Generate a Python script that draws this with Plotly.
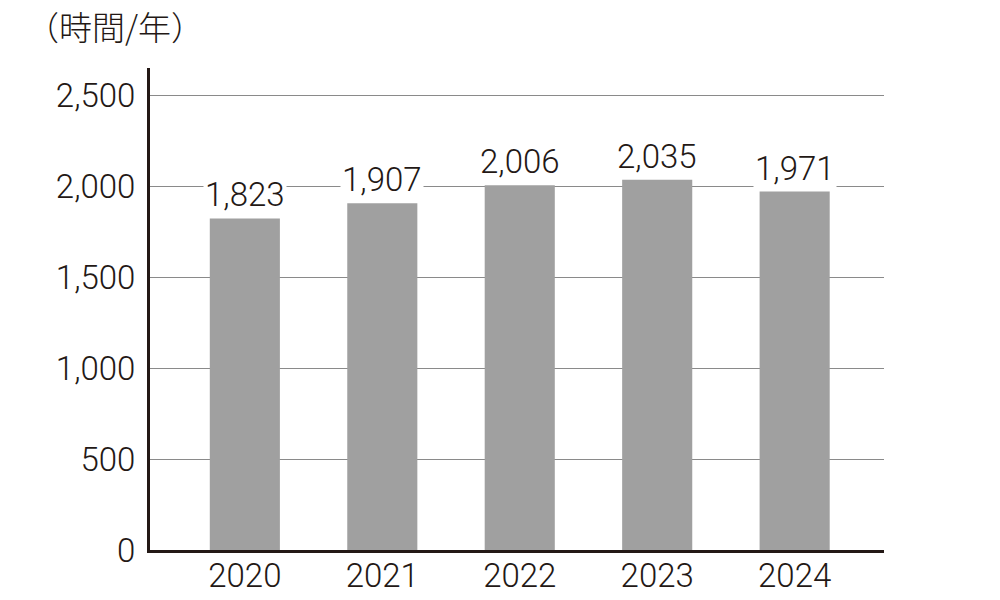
import plotly.graph_objects as go

years = ["2020", "2021", "2022", "2023", "2024"]
hours = [1823, 1907, 2006, 2035, 1971]
y_ticks = [0, 500, 1000, 1500, 2000, 2500]
y_tick_labels = ["0", "500", "1,000", "1,500", "2,000", "2,500"]
unit_label = "（時間/年）"

ink = "#231815"
font_num = "Roboto, 'DejaVu Sans', sans-serif"

# page has an 8px body margin, so the figure is drawn 8px in from the top-left
W, H = 992, 592
L, R, T, B = 142, 116, 60, 50
pw, ph = W - L - R, H - T - B

fig = go.Figure()
fig.add_trace(go.Bar(
    x=list(range(len(years))), y=hours,
    width=0.51,
    marker=dict(color="#a0a0a0", line=dict(width=0)),
    hoverinfo="skip",
))

for i, v in enumerate(hours):
    fig.add_annotation(
        x=i, y=v, xref="x", yref="y",
        text=f"{v:,}", showarrow=False,
        yanchor="bottom", xanchor="center", yshift=2,
        bgcolor="white", borderpad=1,
        font=dict(family=font_num, size=33, color=ink, weight=300),
    )

fig.add_annotation(
    x=(16 - L) / pw, y=(H - B - 18) / ph, xref="paper", yref="paper",
    xanchor="left", yanchor="middle",
    text=unit_label, showarrow=False,
    font=dict(family="'Noto Sans CJK JP', sans-serif", size=33, color=ink, weight=300),
)

fig.update_layout(
    width=W, height=H,
    margin=dict(l=L, r=R, t=T, b=B, autoexpand=False),
    paper_bgcolor="white", plot_bgcolor="white",
    showlegend=False,
    xaxis=dict(
        range=[-0.69, 4.65],
        tickmode="array", tickvals=list(range(len(years))), ticktext=years,
        showgrid=False, zeroline=False,
        showline=True, linecolor=ink, linewidth=3,
        ticks="", ticklabelstandoff=-6,
        tickfont=dict(family=font_num, size=33, color=ink, weight=300),
        fixedrange=True,
    ),
    yaxis=dict(
        range=[0, 2650],
        tickmode="array", tickvals=y_ticks, ticktext=y_tick_labels,
        showgrid=True, gridcolor="#8a8a8a", gridwidth=1,
        zeroline=False,
        showline=True, linecolor=ink, linewidth=3,
        ticks="", ticklabelstandoff=5,
        tickfont=dict(family=font_num, size=33, color=ink, weight=300),
        fixedrange=True,
    ),
)
fig.write_html("out.html")
